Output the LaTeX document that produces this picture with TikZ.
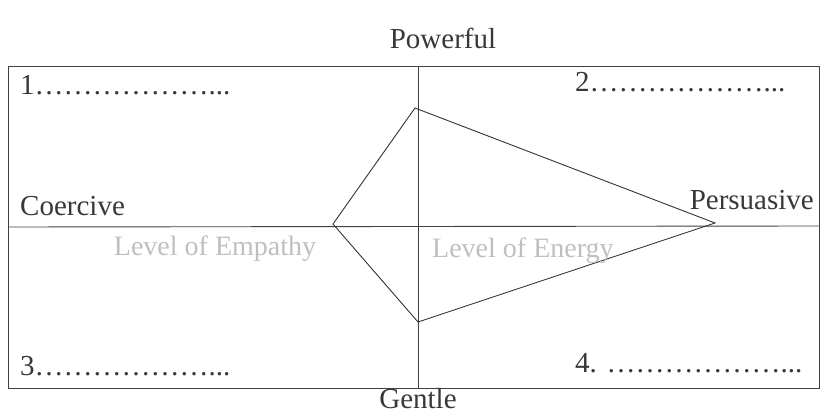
\documentclass[tikz,border=0pt]{standalone}
\usepackage{fontspec}
\setmainfont{Liberation Serif}
\begin{document}
\begin{tikzpicture}[x=1pt,y=-1pt,
  lbl/.style={inner sep=0pt, text=black!78, font=\fontsize{29}{34}\selectfont},
  faint/.style={inner sep=0pt, text=black!25, font=\fontsize{28}{33}\selectfont},
  frame/.style={draw=black!75, line width=0.9pt},
  kite/.style={draw=black!80, line width=0.9pt, line join=miter}]
\useasboundingbox (0,0) rectangle (820,417);
% frame and axes
\coordinate (tl) at (8,66);
\coordinate (br) at (819,388);
\draw[frame] (tl) rectangle (br);
\coordinate (vt) at (418,66);
\coordinate (vb) at (418,388);
\coordinate (hl) at (8,227);
\coordinate (hr) at (819,226);
\draw[frame] (vt) -- (vb);
\draw[frame] (hl) -- (hr);
% kite
\coordinate (ktop) at (415,108);
\coordinate (kleft) at (333,224);
\coordinate (kbot) at (418,322);
\coordinate (kright) at (715,223);
\draw[kite] (ktop) -- (kright) -- (kbot) -- (kleft) -- cycle;
% labels
\node[lbl, anchor=base] (powerful) at (443,49) {Powerful};
\node[lbl, anchor=base] (gentle) at (418,408) {Gentle};
\node[lbl, anchor=base west] (coercive) at (20,215) {Coercive};
\node[lbl, anchor=base east] (persuasive) at (814,210) {Persuasive};
\node[lbl, anchor=base west] (q1) at (20,95) {1………………...};
\node[lbl, anchor=base west] (q2) at (575,92) {2………………...};
\node[lbl, anchor=base west] (q3) at (20,375) {3………………...};
\node[lbl, anchor=base west] (q4) at (575,372) {4. ………………...};
\node[faint, anchor=base] (empathy) at (215,255) {Level of Empathy};
\node[faint, anchor=base west] (energy) at (432,257) {Level of Energy};
\end{tikzpicture}
\end{document}
